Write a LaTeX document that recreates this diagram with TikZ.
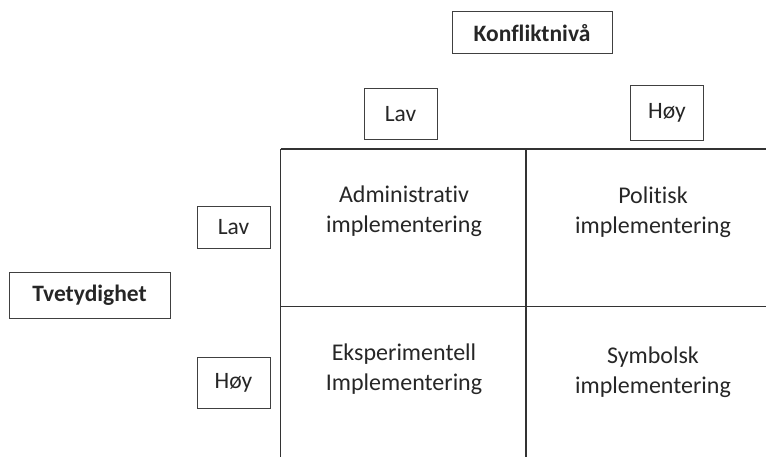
\documentclass[tikz,border=0pt]{standalone}
\usepackage{fontspec}
\setmainfont{Carlito}[Ligatures=NoCommon]
\begin{document}
\begin{tikzpicture}[x=1pt,y=-1pt,
  lbox/.style={draw=black!75,line width=1pt,inner sep=0pt,align=center,text=black!85,font=\fontsize{23.5}{28}\selectfont},
  cell/.style={inner sep=0pt,align=center,text=black!85,font=\fontsize{24}{30}\selectfont},
  grid/.style={draw=black!80,line width=1.1pt}]
\useasboundingbox (0,0) rectangle (766,457);
% labels
\node[lbox,minimum width=160pt,minimum height=42pt,font=\bfseries\fontsize{23.5}{28}\selectfont] (konf) at (532,33) {Konfliktnivå};
\node[lbox,minimum width=73pt,minimum height=51pt] (lavtop) at (400.5,114.5) {Lav};
\node[lbox,minimum width=73pt,minimum height=55pt] (hoytop) at (667,113) {Høy};
\node[lbox,minimum width=161pt,minimum height=45pt,font=\bfseries\fontsize{23.5}{28}\selectfont] (tvet) at (89.5,295.5) {Tvetydighet};
\node[lbox,minimum width=73pt,minimum height=42pt] (lavleft) at (233.5,227.5) {Lav};
\node[lbox,minimum width=73pt,minimum height=51pt] (hoyleft) at (233.5,383) {Høy};
% grid
\coordinate (tl) at (280.5,149);
\coordinate (tr) at (766,149);
\coordinate (ml) at (280.5,306.5);
\coordinate (mr) at (766,306.5);
\coordinate (bl) at (280.5,457);
\coordinate (tm) at (526,149);
\coordinate (bm) at (526,457);
\draw[grid] (tl) -- (tr);
\draw[grid] (ml) -- (mr);
\draw[grid] (tl) -- (bl);
\draw[grid] (tm) -- (bm);
% cells
\node[cell] (c11) at (404,211) {Administrativ\\implementering};
\node[cell] (c12) at (653,212) {Politisk\\implementering};
\node[cell] (c21) at (404,369) {Eksperimentell\\Implementering};
\node[cell] (c22) at (653,372) {Symbolsk\\implementering};
\end{tikzpicture}
\end{document}
